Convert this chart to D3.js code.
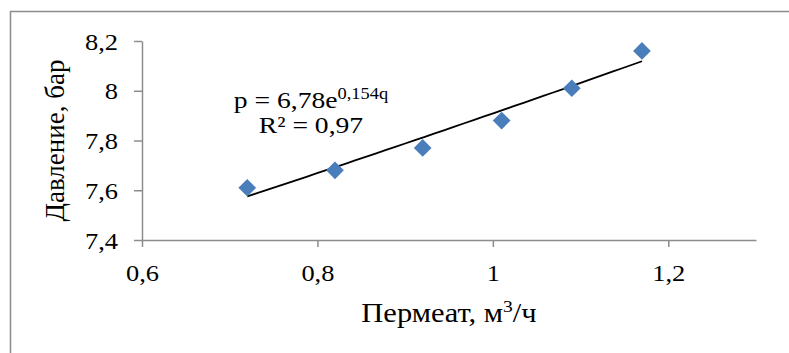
<!DOCTYPE html>
<html>
<head>
<meta charset="utf-8">
<script src="https://cdn.jsdelivr.net/npm/d3@7"></script>
<style>
  html, body { margin: 0; padding: 0; background: #fff; }
  svg { display: block; }
  text { font-family: "Liberation Serif", "Times New Roman", serif; fill: #000; }
</style>
</head>
<body>
<svg id="chart" width="789" height="353"></svg>
<script>
// Data
const permeate = [0.72, 0.82, 0.92, 1.01, 1.09, 1.17];
const pressure = [7.61, 7.68, 7.77, 7.88, 8.01, 8.16];
const xTicks = [0.6, 0.8, 1, 1.2];
const yTicks = [7.4, 7.6, 7.8, 8, 8.2];
const xDomain = [0.6, 1.3];
const yDomain = [7.4, 8.2];
const trendCoef = [6.78, 0.154]; // p = a * e^(b q)
const trendLabel = ["p = 6,78e", "0,154q"];
const r2Label = "R² = 0,97";
const xTitle = ["Пермеат, м", "3", "/ч"];
const yTitle = "Давление, бар";

const SX = 1.15; // horizontal text stretch of the original picture
const svg = d3.select("#chart");
const m = { left: 142, right: 756, top: 41, bottom: 240 };
const x = d3.scaleLinear().domain(xDomain).range([m.left, m.right]);
const y = d3.scaleLinear().domain(yDomain).range([m.bottom, m.top]);
const fmt = d => String(d).replace(".", ",");

// outer frame
svg.append("rect").attr("x", 10.5).attr("y", 11.5).attr("width", 800).attr("height", 400)
  .attr("fill", "none").attr("stroke", "#8c8c8c").attr("stroke-width", 1.5);

// axes
const gx = svg.append("g").attr("transform", `translate(0,${m.bottom})`)
  .call(d3.axisBottom(x).tickValues(xTicks).tickFormat(fmt).tickSize(7).tickSizeOuter(0));
const gy = svg.append("g").attr("transform", `translate(${m.left},0)`)
  .call(d3.axisLeft(y).tickValues(yTicks).tickFormat(fmt).tickSize(8).tickSizeOuter(0));
[gx, gy].forEach(g => {
  g.attr("font-family", null).attr("font-size", null);
  g.select(".domain").attr("stroke", "#8c8c8c").attr("stroke-width", 1.5);
  g.selectAll(".tick line").attr("stroke", "#8c8c8c").attr("stroke-width", 1.5);
  g.selectAll(".tick text").attr("font-size", 23).attr("fill", "#000")
    .attr("transform", `scale(${SX},1)`);
});
gx.selectAll(".tick text").attr("dy", null).attr("y", 41);
gy.selectAll(".tick text").attr("x", -24 / SX).attr("dy", "0.35em");

// trendline
const tq = d3.range(0, 41).map(i => permeate[0] + (permeate[permeate.length - 1] - permeate[0]) * i / 40);
const line = d3.line().x(d => x(d)).y(d => y(trendCoef[0] * Math.exp(trendCoef[1] * d)));
svg.append("path").datum(tq).attr("d", line)
  .attr("fill", "none").attr("stroke", "#000").attr("stroke-width", 1.8);

// markers
const sym = d3.symbol().type(d3.symbolDiamond2).size(200);
svg.append("g").selectAll("path").data(permeate).join("path")
  .attr("d", sym)
  .attr("transform", (d, i) => `translate(${x(d)},${y(pressure[i])})`)
  .attr("fill", "#4a7ebb");

// annotation
const t1 = svg.append("text").attr("transform", `translate(311,108) scale(${SX},1)`)
  .attr("text-anchor", "middle").attr("font-size", 24);
t1.append("tspan").text(trendLabel[0]);
t1.append("tspan").attr("font-size", 16).attr("dy", -9).text(trendLabel[1]);
svg.append("text").attr("transform", `translate(311,133) scale(${SX},1)`)
  .attr("text-anchor", "middle").attr("font-size", 24).text(r2Label);

// axis titles
const xt = svg.append("text").attr("transform", `translate(${(m.left + m.right) / 2},322) scale(${SX},1)`)
  .attr("text-anchor", "middle").attr("font-size", 26.5);
xt.append("tspan").text(xTitle[0]);
xt.append("tspan").attr("font-size", 17).attr("dy", -10).text(xTitle[1]);
xt.append("tspan").attr("dy", 10).text(xTitle[2]);

svg.append("text")
  .attr("transform", `translate(64,${(m.top + m.bottom) / 2}) rotate(-90)`)
  .attr("text-anchor", "middle").attr("font-size", 27).text(yTitle);
</script>
</body>
</html>
